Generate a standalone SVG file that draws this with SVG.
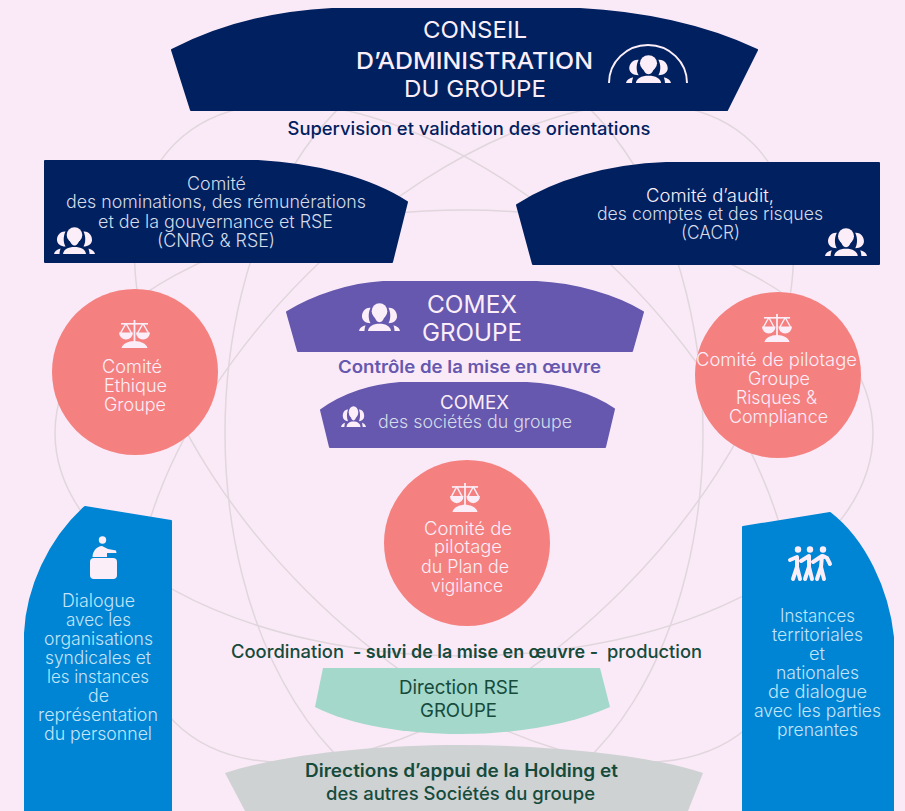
<svg xmlns="http://www.w3.org/2000/svg" width="905" height="811" viewBox="0 0 905 811">
<style>
text{font-family:"Inter","Noto Sans","Liberation Sans",sans-serif;font-weight:300;fill:#fbeef8}
.navy{fill:#002060;stroke:#002060;stroke-width:2;stroke-linejoin:round}
.purple{fill:#6558ae;stroke:#6558ae;stroke-width:2;stroke-linejoin:round}
.coral{fill:#f48180}
.blue{fill:#0085d4;stroke:#0085d4;stroke-width:2;stroke-linejoin:round}
.t18{font-size:18px}
.lt{fill:#d5dbe8}
.sky{fill:#c4e4f8;font-size:18px}
.ring{fill:none;stroke:#e1d6dd;stroke-width:1.5}
.ic{fill:#fbeef8}
.dk{fill:#164b3c}
.reg{font-weight:400}
</style>
<defs>
<symbol id="people" viewBox="0 0 41 27" preserveAspectRatio="none">
<circle cx="20.5" cy="8" r="7.8"/>
<path d="M15,12 C16.5,16 18,18.500 20.5,18.500 C23,18.500 24.500,16 26,12 Z"/>
<path d="M11.500,4.500 C6,4 2.500,9 3,13.500 C3.500,17 6.500,19.500 11.500,19.500 C9.500,16 8.800,10 11.500,4.500 Z"/>
<path d="M29.500,4.500 C35,4 38.500,9 38,13.500 C37.500,17 34.500,19.500 29.500,19.500 C31.500,16 32.200,10 29.500,4.500 Z"/>
<path d="M9,27 C9.500,22.500 14,20 20.5,20 C27,20 31.500,22.500 32,27 Z"/>
<path d="M0,27 C0.500,24.500 2.500,22.500 6.500,21.500 C6,23.500 5.500,25 5.500,27 Z"/>
<path d="M41,27 C40.500,24.500 38.500,22.500 34.500,21.500 C35,23.500 35.500,25 35.500,27 Z"/>
</symbol>
<symbol id="scales" viewBox="0 0 31 28" preserveAspectRatio="none">
<rect x="14.6" y="0" width="1.8" height="22"/>
<rect x="2" y="3" width="27" height="1.6"/>
<path d="M7,3.500 L1.600,13 M7,3.500 L12.400,13 M24,3.500 L18.600,13 M24,3.500 L29.400,13" fill="none" stroke="#fbeef8" stroke-width="1.5"/>
<path d="M0,12.500 H14 A7,7 0 0 1 0,12.500 Z M17,12.500 H31 A7,7 0 0 1 17,12.500 Z"/>
<path d="M2.500,28 C3.500,24 9,21 15.500,21 C22,21 27.500,24 28.500,28 Z"/>
</symbol>
</defs>
<rect width="905" height="811" fill="#faeaf7"/>
<g id="connectors">
<ellipse class="ring" cx="464" cy="433" rx="409" ry="223"/>
<ellipse class="ring" cx="464" cy="433" rx="239" ry="381"/>
<ellipse class="ring" cx="464" cy="433" rx="409" ry="223" transform="rotate(45 464 433)"/>
<ellipse class="ring" cx="464" cy="433" rx="409" ry="223" transform="rotate(-45 464 433)"/>
</g>
<g id="conseil">
<path class="navy" d="M172,50 C220,25 275,12 332,9 L580,9 C640,12 705,25 757,50 L727,110 L191,110 Z"/>
<text x="423" y="38" font-size="23.5" class="reg" textLength="104" lengthAdjust="spacingAndGlyphs">CONSEIL</text>
<text x="356" y="68.500" font-size="23.5" textLength="237" lengthAdjust="spacingAndGlyphs" style="font-weight:500">D’ADMINISTRATION</text>
<text x="404" y="97" font-size="23.5" class="reg" textLength="142" lengthAdjust="spacingAndGlyphs">DU GROUPE</text>
<path d="M609,83 A39,38 0 0 1 687,83" fill="none" stroke="#fbeef8" stroke-width="2"/>
<use href="#people" x="626" y="55" width="45" height="28" class="ic"/>
</g>
<g id="supervision">
<text x="287.500" y="135" font-size="18" textLength="363" lengthAdjust="spacingAndGlyphs" style="fill:#002060;font-weight:500">Supervision et validation des orientations</text>
</g>
<g id="cnrg">
<path class="navy" d="M45,161 L258,161 C315,164 370,178 407,202 L392,262 L45,262 Z"/>
<text class="t18 lt" x="187" y="190" textLength="59" lengthAdjust="spacingAndGlyphs">Comité</text>
<text class="t18 lt" x="66" y="208" textLength="300" lengthAdjust="spacingAndGlyphs">des nominations, des rémunérations</text>
<text class="t18 lt" x="98" y="228" textLength="235" lengthAdjust="spacingAndGlyphs">et de la gouvernance et RSE</text>
<text class="t18 lt" x="157" y="247" textLength="118" lengthAdjust="spacingAndGlyphs">(CNRG &amp; RSE)</text>
<use href="#people" x="54" y="227" width="41" height="27" class="ic"/>
</g>
<g id="cacr">
<path class="navy" d="M517,205 C555,180 610,165 666,163 L879,163 L879,264 L533,264 Z"/>
<text class="t18" x="646" y="202" textLength="128" lengthAdjust="spacingAndGlyphs">Comité d’audit,</text>
<text class="t18 lt" x="597" y="220" textLength="226" lengthAdjust="spacingAndGlyphs">des comptes et des risques</text>
<text class="t18 lt" x="681" y="239" textLength="59" lengthAdjust="spacingAndGlyphs">(CACR)</text>
<use href="#people" x="825" y="228" width="42" height="28" class="ic"/>
</g>
<g id="comex-groupe">
<path class="purple" d="M287,312 C315,295 350,284 383,282 L537,282 C575,284 615,295 643,312 L632,351 L298,351 Z"/>
<text x="427" y="313" font-size="24.5" class="reg" textLength="90" lengthAdjust="spacingAndGlyphs">COMEX</text>
<text x="422" y="341" font-size="24.5" class="reg" textLength="100" lengthAdjust="spacingAndGlyphs">GROUPE</text>
<use href="#people" x="359" y="303" width="41" height="28" class="ic"/>
</g>
<g id="controle">
<text x="338" y="373" font-size="17" textLength="263" lengthAdjust="spacingAndGlyphs" style="fill:#6558ae;font-weight:600">Contrôle de la mise en œuvre</text>
</g>
<g id="comex-societes">
<path class="purple" d="M321,410 C345,393 372,385 400,383 L527,383 C560,385 590,393 614,409 L605,447 L330,447 Z"/>
<text x="440" y="409" font-size="18.5" class="reg" textLength="69" lengthAdjust="spacingAndGlyphs">COMEX</text>
<text class="t18 lt" x="378" y="428" textLength="194" lengthAdjust="spacingAndGlyphs">des sociétés du groupe</text>
<use href="#people" x="341" y="406" width="25" height="21" class="ic"/>
</g>
<g id="ethique">
<circle class="coral" cx="135" cy="372" r="83"/>
<use href="#scales" x="119" y="320" width="31" height="28" class="ic"/>
<text class="t18" x="102" y="373" textLength="60" lengthAdjust="spacingAndGlyphs">Comité</text>
<text class="t18" x="104" y="392" textLength="63" lengthAdjust="spacingAndGlyphs">Ethique</text>
<text class="t18" x="104" y="411" textLength="62" lengthAdjust="spacingAndGlyphs">Groupe</text>
</g>
<g id="pilotage">
<circle class="coral" cx="778" cy="375" r="83"/>
<use href="#scales" x="762" y="314" width="30" height="28" class="ic"/>
<text class="t18" x="696" y="366" textLength="161" lengthAdjust="spacingAndGlyphs">Comité de pilotage</text>
<text class="t18" x="748" y="385" textLength="62" lengthAdjust="spacingAndGlyphs">Groupe</text>
<text class="t18" x="736" y="404" textLength="81" lengthAdjust="spacingAndGlyphs">Risques &amp;</text>
<text class="t18" x="729" y="423" textLength="99" lengthAdjust="spacingAndGlyphs">Compliance</text>
</g>
<g id="vigilance">
<circle class="coral" cx="467" cy="543" r="83"/>
<use href="#scales" x="450" y="483" width="30" height="29" class="ic"/>
<text class="t18" x="424" y="535" textLength="88" lengthAdjust="spacingAndGlyphs">Comité de</text>
<text class="t18" x="434" y="553" textLength="68" lengthAdjust="spacingAndGlyphs">pilotage</text>
<text class="t18" x="421" y="573" textLength="88" lengthAdjust="spacingAndGlyphs">du Plan de</text>
<text class="t18" x="431" y="592" textLength="72" lengthAdjust="spacingAndGlyphs">vigilance</text>
</g>
<g id="dialogue">
<path class="blue" d="M25,811 L25,633 C27,590 48,540 85,507 L171,521 L171,811 Z"/>
<circle cx="102.500" cy="540" r="3.700" class="ic"/>
<path class="ic" d="M92.500,557 C92.500,551 97,546 102,546 L108,549 L116,550.500 L116.500,553 L107,553 L107,557 Z"/>
<rect x="90" y="558" width="27" height="21" rx="4" class="ic"/>
<text class="sky" x="62" y="607" textLength="73" lengthAdjust="spacingAndGlyphs">Dialogue</text>
<text class="sky" x="66" y="626" textLength="65" lengthAdjust="spacingAndGlyphs">avec les</text>
<text class="sky" x="44" y="645" textLength="109" lengthAdjust="spacingAndGlyphs">organisations</text>
<text class="sky" x="45" y="664" textLength="106" lengthAdjust="spacingAndGlyphs">syndicales et</text>
<text class="sky" x="47" y="683" textLength="102" lengthAdjust="spacingAndGlyphs">les instances</text>
<text class="sky" x="88" y="702" textLength="21" lengthAdjust="spacingAndGlyphs">de</text>
<text class="sky" x="38" y="721" textLength="120" lengthAdjust="spacingAndGlyphs">représentation</text>
<text class="sky" x="44" y="740" textLength="108" lengthAdjust="spacingAndGlyphs">du personnel</text>
</g>
<g id="instances">
<path class="blue" d="M743,527 L830,513 C865,540 888,590 893,637 L893,811 L743,811 Z"/>
<g class="ic">
<circle cx="798" cy="549.500" r="3.200"/><circle cx="810" cy="549.500" r="3.200"/><circle cx="823" cy="549.500" r="3.200"/>
<g fill="none" stroke="#fbeef8" stroke-width="4" stroke-linecap="round" stroke-linejoin="round">
<path d="M790,560 L797,557 L797,567 L793,579 M797,567 L800,579"/>
<path d="M801,561 L809,556 L809,567 L805,579 M809,567 L812,579"/>
<path d="M813,562 L822,556 L821,567 L817,579 M821,567 L824,579 M823,556 L827,558 L830,564"/>
</g>
</g>
<text class="sky" x="780" y="622" textLength="75" lengthAdjust="spacingAndGlyphs">Instances</text>
<text class="sky" x="772" y="641" textLength="91" lengthAdjust="spacingAndGlyphs">territoriales</text>
<text class="sky" x="809" y="660" textLength="16" lengthAdjust="spacingAndGlyphs">et</text>
<text class="sky" x="776" y="679" textLength="83" lengthAdjust="spacingAndGlyphs">nationales</text>
<text class="sky" x="768" y="698" textLength="99" lengthAdjust="spacingAndGlyphs">de dialogue</text>
<text class="sky" x="754" y="717" textLength="127" lengthAdjust="spacingAndGlyphs">avec les parties</text>
<text class="sky" x="777" y="736" textLength="81" lengthAdjust="spacingAndGlyphs">prenantes</text>
</g>
<g id="coordination">
<text y="658" font-size="18" class="dk" style="font-weight:500"><tspan x="231" textLength="113" lengthAdjust="spacingAndGlyphs">Coordination</tspan> <tspan x="353" textLength="245" lengthAdjust="spacingAndGlyphs" style="font-weight:600">- suivi de la mise en œuvre -</tspan> <tspan x="607" textLength="95" lengthAdjust="spacingAndGlyphs">production</tspan></text>
</g>
<g id="direction-rse">
<path d="M323,668 L600,668 L610,707 C570,725 515,734 460,734 C405,734 350,725 315,707 Z" fill="#a3d8ca"/>
<text x="399" y="694" font-size="19" class="dk reg" textLength="120" lengthAdjust="spacingAndGlyphs">Direction RSE</text>
<text x="420" y="717" font-size="19" class="dk reg" textLength="77" lengthAdjust="spacingAndGlyphs">GROUPE</text>
</g>
<g id="directions-appui">
<path d="M225,773 C280,755 370,745 460,745 C550,745 650,755 703,773 L688,811 L245,811 Z" fill="#ced2d3"/>
<text x="305" y="777" font-size="18" class="dk" textLength="313" lengthAdjust="spacingAndGlyphs" style="font-weight:600">Directions d’appui de la Holding et</text>
<text x="326" y="800" font-size="18" class="dk" textLength="269" lengthAdjust="spacingAndGlyphs" style="font-weight:500">des autres Sociétés du groupe</text>
</g>
</svg>
